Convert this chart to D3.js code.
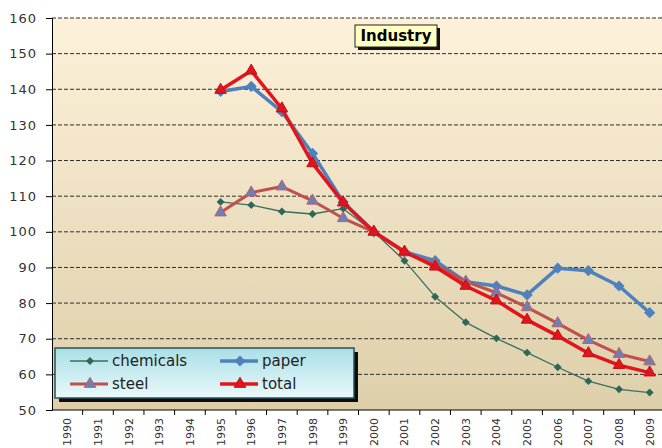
<!DOCTYPE html>
<html>
<head>
<meta charset="utf-8">
<script src="https://cdn.jsdelivr.net/npm/d3@7"></script>
<style>
  body { margin: 0; background: #fff; }
  svg { display: block; }
</style>
</head>
<body>
<div id="chart"></div>
<script>
// Chart data (null = no value that year)
const years = ["1990", "1991", "1992", "1993", "1994", "1995", "1996", "1997", "1998", "1999",
               "2000", "2001", "2002", "2003", "2004", "2005", "2006", "2007", "2008", "2009"];
const chemicals = [null, null, null, null, null, 108.4, 107.5, 105.7, 105, 106.5,
                   100, 91.9, 81.8, 74.6, 70.1, 66.1, 62, 58.1, 55.8, 54.9];
const paper = [null, null, null, null, null, 139.4, 140.8, 133.7, 122, 108.4,
               100, 94.4, 91.9, 86, 84.8, 82.3, 89.8, 89.1, 84.8, 77.3];
const steel = [null, null, null, null, null, 105.4, 111, 112.7, 108.7, 103.8,
               100, 94.2, 90.8, 86, 82.9, 78.8, 74.3, 69.6, 65.7, 63.6];
const total = [null, null, null, null, null, 139.8, 145.2, 134.6, 119.2, 108.2,
               100, 94.4, 90.2, 84.8, 80.7, 75.3, 70.8, 65.9, 62.6, 60.5];
const yTicks = [50, 60, 70, 80, 90, 100, 110, 120, 130, 140, 150, 160];

const width = 662, height = 448;
const margin = { top: 18, right: -3, bottom: 38, left: 52 };

const svg = d3.select("#chart")
    .append("svg")
    .attr("width", width)
    .attr("height", height);

const defs = svg.append("defs");
const bg = defs.append("linearGradient").attr("id", "plotbg")
    .attr("x1", 0).attr("y1", 0).attr("x2", 0).attr("y2", 1);
bg.append("stop").attr("offset", "0%").attr("stop-color", "#fdf1da");
bg.append("stop").attr("offset", "100%").attr("stop-color", "#ddcfa9");

const lg = defs.append("linearGradient").attr("id", "legbg")
    .attr("x1", 0).attr("y1", 0).attr("x2", 0).attr("y2", 1);
lg.append("stop").attr("offset", "0%").attr("stop-color", "#a9dfe6");
lg.append("stop").attr("offset", "100%").attr("stop-color", "#eaf8fa");

// Scales
const x = d3.scaleBand()
    .domain(years)
    .range([margin.left, width - margin.right]);

const y = d3.scaleLinear()
    .domain([50, 160])
    .range([height - margin.bottom, margin.top]);

// Plot background
svg.append("rect")
    .attr("x", margin.left)
    .attr("y", y(160))
    .attr("width", width - margin.left)
    .attr("height", y(50) - y(160))
    .attr("fill", "url(#plotbg)");

// Dashed gridlines
svg.append("g")
    .selectAll("line")
    .data(yTicks.filter(d => d > 50))
    .enter()
    .append("line")
    .attr("x1", margin.left)
    .attr("x2", width)
    .attr("y1", d => y(d))
    .attr("y2", d => y(d))
    .attr("stroke", "#2e2e2e")
    .attr("stroke-width", 1)
    .attr("stroke-dasharray", "4,2");

// Y axis
const yAxis = svg.append("g")
    .attr("transform", `translate(${margin.left},0)`)
    .call(d3.axisLeft(y).tickValues(yTicks).tickSize(6).tickPadding(9));
yAxis.select(".domain").attr("stroke", "#000");
yAxis.selectAll(".tick line").attr("stroke", "#000");
yAxis.selectAll("text")
    .style("font-family", "DejaVu Sans, sans-serif")
    .style("font-size", "13px")
    .style("letter-spacing", "1px")
    .attr("fill", "#333");

// X axis: ticks between categories, labels rotated
const xAxis = svg.append("g")
    .attr("transform", `translate(0,${y(50)})`);
xAxis.append("line")
    .attr("x1", margin.left).attr("x2", width)
    .attr("stroke", "#000");
xAxis.selectAll(".xtick")
    .data(years.slice(1))
    .enter()
    .append("line")
    .attr("x1", d => x(d))
    .attr("x2", d => x(d))
    .attr("y1", 0)
    .attr("y2", 5)
    .attr("stroke", "#000");
xAxis.selectAll(".xlabel")
    .data(years)
    .enter()
    .append("text")
    .attr("transform", d => `translate(${x(d) + x.bandwidth() / 2 + 4},8) rotate(-90)`)
    .attr("text-anchor", "end")
    .style("font-family", "DejaVu Sans, sans-serif")
    .style("font-size", "11px")
    .attr("fill", "#333")
    .text(d => d);

// Series styles
const series = [
    { name: "chemicals", values: chemicals, color: "#3b6d60", width: 1.3, marker: "diamond", size: 40, fill: "#2e6657", stroke: "none" },
    { name: "paper", values: paper, color: "#4f81bd", width: 3.5, marker: "diamond", size: 80, fill: "#4f81bd", stroke: "none" },
    { name: "steel", values: steel, color: "#c0504d", width: 3, marker: "triangle", size: 95, fill: "#6d7fb6", stroke: "#b8606a" },
    { name: "total", values: total, color: "#e3141c", width: 3.5, marker: "triangle", size: 95, fill: "#e3141c", stroke: "#c01018" }
];

const cx = d => x(d) + x.bandwidth() / 2;
const line = d3.line()
    .defined(d => d.v !== null)
    .x(d => cx(d.year))
    .y(d => y(d.v));

function symbolFor(s) {
    return d3.symbol()
        .type(s.marker === "diamond" ? d3.symbolDiamond2 : d3.symbolTriangle2)
        .size(s.size)();
}

series.forEach(function(s) {
    const pts = years.map((yr, i) => ({ year: yr, v: s.values[i] }));
    svg.append("path")
        .datum(pts)
        .attr("fill", "none")
        .attr("stroke", s.color)
        .attr("stroke-width", s.width)
        .attr("stroke-linejoin", "round")
        .attr("d", line);
    svg.append("g")
        .selectAll("path")
        .data(pts.filter(d => d.v !== null))
        .enter()
        .append("path")
        .attr("transform", d => `translate(${cx(d.year)},${y(d.v)})`)
        .attr("d", symbolFor(s))
        .attr("fill", s.fill)
        .attr("stroke", s.stroke)
        .attr("stroke-width", 1);
});

// Title box
const title = svg.append("g").attr("transform", "translate(355,25)");
title.append("rect").attr("x", 3).attr("y", 3).attr("width", 82).attr("height", 22).attr("fill", "#111");
title.append("rect").attr("width", 82).attr("height", 22)
    .attr("fill", "#ffffbf").attr("stroke", "#222").attr("stroke-width", 1);
title.append("text")
    .attr("x", 41).attr("y", 16)
    .attr("text-anchor", "middle")
    .style("font-family", "DejaVu Sans, sans-serif")
    .style("font-size", "15px")
    .style("font-weight", "bold")
    .text("Industry");

// Legend
const legend = svg.append("g").attr("transform", "translate(55,348)");
legend.append("rect").attr("x", 4).attr("y", 4).attr("width", 299).attr("height", 50).attr("fill", "#0c0c0c");
legend.append("rect").attr("width", 299).attr("height", 50)
    .attr("fill", "url(#legbg)").attr("stroke", "#2a5058").attr("stroke-width", 1.5);

const legendPos = [[15, 13], [165, 13], [15, 36], [165, 36]];
series.forEach(function(s, i) {
    const [lx, ly] = legendPos[i];
    const item = legend.append("g").attr("transform", `translate(${lx},${ly})`);
    item.append("line")
        .attr("x1", 0).attr("x2", 38)
        .attr("stroke", s.color)
        .attr("stroke-width", s.width);
    item.append("path")
        .attr("transform", "translate(20,0)")
        .attr("d", symbolFor(s))
        .attr("fill", s.fill)
        .attr("stroke", s.stroke);
    item.append("text")
        .attr("x", 42).attr("y", 5)
        .style("font-family", "DejaVu Sans, sans-serif")
        .style("font-size", "15px")
        .attr("fill", "#222")
        .text(s.name);
});
</script>
</body>
</html>
